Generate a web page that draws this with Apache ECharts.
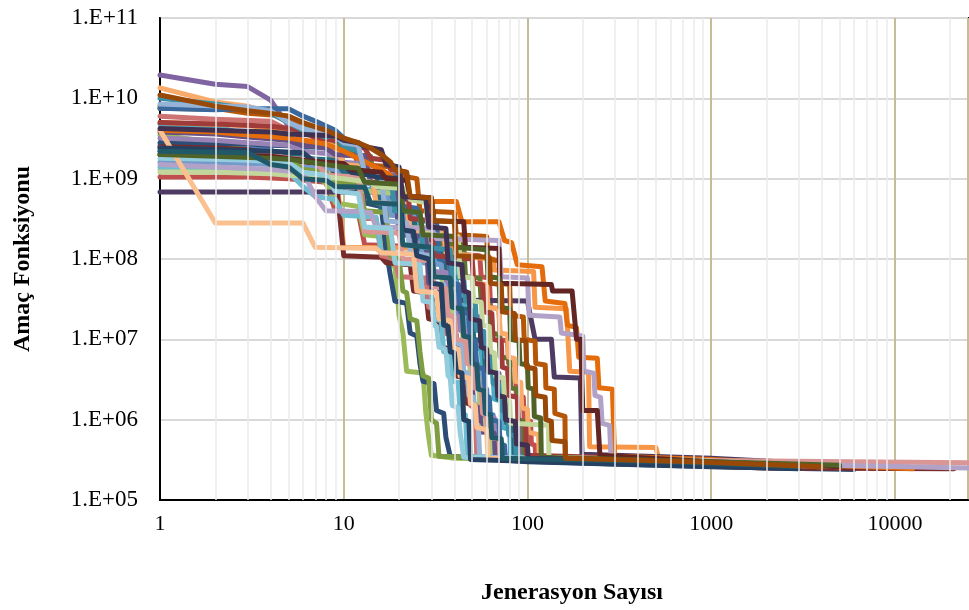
<!DOCTYPE html>
<html>
<head>
<meta charset="utf-8">
<script src="https://cdn.jsdelivr.net/npm/echarts@6/dist/echarts.min.js"></script>
<style>
html,body{margin:0;padding:0;background:#fff;}
#chart{width:969px;height:610px;}
</style>
</head>
<body>
<div id="chart"></div>
<script>
// Each run: [generation, objective value] points
const run01 = [[1,2.6e9],[2,2.4e9],[4,2.3e9],[5,1.7e9],[9,1.5e9],[10,1e9],[14,9e8],[15,6e8],[22,5.5e8],[23,2.5e8],[30,2.4e8],[31,1.2e8],[36,1.15e8],[37,6e7],[41,5.8e7],[42,2.5e7],[46,2.4e7],[47,1.2e7],[50,1.15e7],[51,5e6],[55,4.8e6],[56,2.5e6],[60,2.4e6],[61,1.2e6],[65,1.15e6],[66,6e5],[70,5.8e5],[71,3.3e5],[300,3e5],[2000,2.6e5],[6000,2.5e5]];
const run02 = [[1,1.05e9],[3,1.05e9],[5,1e9],[8,9e8],[9,4e8],[12,3.8e8],[13,1.5e8],[30,1.4e8],[31,1.2e8],[55,1.1e8],[56,6e7],[62,5.8e7],[63,2.5e7],[70,2.4e7],[71,1e7],[78,9.5e6],[79,5e6],[86,4.8e6],[87,2e6],[95,1.9e6],[96,1e6],[104,9.5e5],[105,5e5],[110,4.8e5],[111,3.5e5],[200,3.3e5],[1500,2.9e5],[8000,2.6e5]];
const run03 = [[1,3.5e9],[2,2.8e9],[3,2.2e9],[5,1.9e9],[6,1.2e9],[8,9e8],[9,5e8],[12,4.5e8],[13,2e8],[16,1.9e8],[17,9e7],[19,8e7],[20,2e7],[21,1.2e7],[22,4e6],[27,3.8e6],[28,1.2e6],[29,6e5],[30,3.6e5],[40,3.3e5],[200,3.1e5],[1000,2.8e5],[4000,2.5e5]];
const run04 = [[1,1.95e10],[2,1.5e10],[3,1.4e10],[4,9.5e9],[5,4.5e9],[6,3e9],[9,2.6e9],[10,2.2e9],[13,1.9e9],[14,1.2e9],[19,1.1e9],[20,4e8],[24,3.8e8],[25,2e8],[33,1.9e8],[34,8e7],[40,7.5e7],[41,4e7],[46,3.8e7],[47,2e7],[55,1.9e7],[56,8e6],[62,7.5e6],[63,4e6],[70,3.8e6],[71,1.8e6],[78,1.7e6],[79,9e5],[90,8.5e5],[91,3.4e5],[500,3e5],[3000,2.6e5]];
const run05 = [[1,4.8e9],[2,4.5e9],[3,3.5e9],[5,3e9],[6,2.5e9],[8,2.4e9],[9,9e8],[11,8.5e8],[12,7.5e8],[20,7e8],[21,3e8],[25,2.8e8],[26,1e8],[40,9.5e7],[41,4.5e7],[45,4.3e7],[46,2e7],[50,1.9e7],[51,8e6],[56,7.5e6],[57,4e6],[65,3.8e6],[66,1.8e6],[72,1.7e6],[73,8e5],[80,7.5e5],[81,3.5e5],[400,3.1e5],[3000,2.6e5]];
const run06 = [[1,5e9],[3,4.6e9],[5,4e9],[6,3.7e9],[8,3e9],[9,1.5e9],[10,1.4e8],[40,1.35e8],[41,1.1e8],[65,1e8],[66,7.3e7],[108,7e7],[110,2.5e7],[163,2.4e7],[170,4e6],[215,3.9e6],[218,4.6e5],[500,4.5e5],[520,3.2e5],[3000,2.8e5]];
const run07 = [[1,2.8e9],[3,2.7e9],[4,2.6e9],[8,2.5e9],[9,2.2e9],[12,2.1e9],[13,5e8],[16,4.5e8],[17,1.3e8],[18,6e7],[19,3e7],[22,2.8e7],[23,1.2e7],[25,1.1e7],[26,5e6],[27,3e6],[31,2.8e6],[32,1.3e6],[35,1.2e6],[36,6e5],[38,3.5e5],[100,3e5],[1000,2.6e5],[6000,2.4e5]];
const run08 = [[1,2.5e9],[2,2.4e9],[3,2.3e9],[4,2.1e9],[5,1.7e9],[8,1.5e9],[9,1.2e9],[10,1.1e8],[16,1.05e8],[17,9e7],[23,8.5e7],[24,4e7],[28,3.8e7],[29,1.8e7],[33,1.7e7],[34,8e6],[40,7.5e6],[41,3.5e6],[46,3.3e6],[47,1.6e6],[54,1.5e6],[55,8e5],[62,7.5e5],[63,3.3e5],[300,2.9e5],[2000,2.5e5],[21000,2.45e5]];
const run09 = [[1,7.5e9],[2,7.3e9],[3,7.3e9],[4,7e9],[5,5.5e9],[6,5e9],[7,4e9],[8,3e9],[10,2.6e9],[11,2e9],[14,1.9e9],[15,6e8],[19,5.8e8],[20,2.4e8],[28,2.3e8],[29,1.6e8],[45,1.5e8],[46,6e7],[55,5.8e7],[56,3e7],[62,2.9e7],[63,1.2e7],[70,1.15e7],[71,6e6],[80,5.8e6],[81,2.5e6],[88,2.4e6],[89,1e6],[95,9.5e5],[96,3.4e5],[1000,2.9e5],[12000,2.55e5]];
const run10 = [[1,6.8e8],[17,6.8e8],[19,5.5e8],[28,5.5e8],[29,5.3e8],[30,3.1e7],[100,3e7],[110,1e7],[135,1e7],[140,3.4e6],[194,3.3e6],[198,3.7e5],[1000,3.3e5],[3000,2.9e5],[10000,2.55e5]];
const run11 = [[1,2.2e9],[3,2.1e9],[5,2e9],[6,1.8e9],[9,1.7e9],[10,1.2e9],[15,1.1e9],[16,4e8],[24,3.8e8],[25,1.3e8],[35,1.2e8],[36,5e7],[42,4.8e7],[43,2.4e7],[50,2.3e7],[51,1e7],[58,9.5e6],[59,4e6],[68,3.8e6],[69,1.8e6],[76,1.7e6],[77,9e5],[84,8.5e5],[85,3.3e5],[600,3e5],[4000,2.6e5]];
const run12 = [[1,8e9],[2,7.5e9],[3,6.5e9],[5,6e9],[6,4e9],[8,3.2e9],[11,2.6e9],[12,1.5e9],[19,1.4e9],[20,1.1e9],[25,1e9],[26,4e8],[40,3.8e8],[41,2e8],[60,1.9e8],[61,1e8],[70,9.5e7],[71,5e7],[80,4.8e7],[81,2e7],[95,1.9e7],[96,1e7],[110,9.5e6],[111,5e6],[125,4.8e6],[126,2.5e6],[140,2.4e6],[141,1.2e6],[160,1.1e6],[161,3.3e5],[800,3e5],[5000,2.6e5]];
const run13 = [[1,1.6e9],[2,1.6e9],[4,1.5e9],[6,1.4e9],[9,1.3e9],[10,9e8],[17,8.5e8],[18,3.5e8],[26,3.3e8],[27,9e7],[34,8.5e7],[35,4e7],[40,3.8e7],[41,2e7],[45,1.9e7],[46,8e6],[50,7.5e6],[51,4e6],[55,3.8e6],[56,2e6],[60,1.9e6],[61,9e5],[64,8.5e5],[65,3.4e5],[300,3.1e5],[2500,2.6e5]];
const run14 = [[1,6e9],[2,5.5e9],[4,5.2e9],[5,4e9],[7,3.5e9],[8,3.5e9],[9,2e9],[12,1.9e9],[13,3.2e8],[15,3.2e8],[16,1.1e8],[19,1e8],[20,6e7],[28,5.8e7],[29,2.5e7],[34,2.4e7],[35,1.2e7],[38,1.15e7],[39,6e6],[44,5.8e6],[45,3e6],[48,2.9e6],[49,1.5e6],[52,1.4e6],[53,3.4e5],[500,3.1e5],[3000,2.7e5]];
const run15 = [[1,1.3e9],[2,1.25e9],[5,1.2e9],[7,1.1e9],[8,1e9],[12,9.5e8],[13,7e8],[20,6.5e8],[21,2.5e8],[28,2.4e8],[29,7e7],[34,6.8e7],[35,3.5e7],[38,3.3e7],[39,1.6e7],[44,1.5e7],[45,7e6],[48,6.8e6],[49,3.5e6],[54,3.3e6],[55,1.5e6],[58,1.4e6],[59,8e5],[62,7.5e5],[63,3.3e5],[400,3e5],[2000,2.6e5]];
const run16 = [[1,3.2e9],[2,3e9],[3,2.8e9],[5,2.6e9],[6,2.2e9],[9,2e9],[10,1.6e9],[14,1.5e9],[15,5e8],[22,4.8e8],[23,1.6e8],[30,1.5e8],[31,7e7],[36,6.8e7],[37,3e7],[42,2.9e7],[43,1.3e7],[47,1.25e7],[48,5.5e6],[53,5.3e6],[54,2.5e6],[58,2.4e6],[59,1.1e6],[66,1.05e6],[67,5.5e5],[72,5.3e5],[73,3.2e5],[500,3e5],[3000,2.6e5]];
const run17 = [[1,1.4e9],[2,1.4e9],[3,1.3e9],[5,1.2e9],[6,8e8],[7,6e8],[9,5.5e8],[10,3.5e8],[15,3.3e8],[16,1.2e8],[25,1.15e8],[26,4e7],[30,3.8e7],[31,1.8e7],[34,1.7e7],[35,7e6],[38,6.8e6],[39,3e6],[42,2.9e6],[43,1.2e6],[46,1.15e6],[47,3.5e5],[400,3.1e5],[2500,2.6e5]];
const run18 = [[1,1.35e10],[2,9e9],[3,8e9],[4,6.5e9],[5,5e9],[6,4e9],[7,3e9],[9,2.5e9],[10,1.5e9],[14,1.4e9],[15,5e8],[22,4.8e8],[23,2.2e8],[35,2.1e8],[36,1.2e8],[50,1.1e8],[51,5e7],[60,4.8e7],[61,2.5e7],[70,2.4e7],[71,1.2e7],[78,1.15e7],[79,6e6],[85,5.8e6],[86,3e6],[92,2.9e6],[93,1.4e6],[100,1.35e6],[101,7e5],[115,6.5e5],[116,3.4e5],[600,3.1e5],[4000,2.6e5]];
const run19 = [[1,7.5e9],[2,7.2e9],[3,7.4e9],[4,7.4e9],[5,7.4e9],[6,6e9],[7,5.2e9],[9,4e9],[10,3.2e9],[11,2.8e9],[12,2e9],[14,1.5e9],[16,1.3e9],[17,1.1e9],[20,1e9],[21,4.5e8],[25,4.3e8],[26,3e8],[32,2.9e8],[33,1e8],[38,9.5e7],[39,5e7],[42,4.8e7],[43,2.2e7],[48,2.1e7],[49,1e7],[52,9.5e6],[53,4.5e6],[58,4.3e6],[59,2e6],[62,1.9e6],[63,1e6],[70,9.5e5],[71,5e5],[75,4.8e5],[76,3.3e5],[400,3e5],[3000,2.6e5]];
const run20 = [[1,5e9],[2,4.8e9],[4,4.5e9],[6,4e9],[7,3.2e9],[9,3e9],[10,2.8e9],[11,2.5e9],[13,2.4e9],[14,1.8e9],[17,1.7e9],[18,1.3e9],[22,1.2e9],[23,3.2e8],[30,3e8],[31,1.1e8],[50,1e8],[51,5e7],[57,4.8e7],[58,2.2e7],[64,2.1e7],[65,1e7],[72,9.5e6],[73,4.5e6],[78,4.3e6],[79,2e6],[88,1.9e6],[89,9e5],[98,8.5e5],[99,3.6e5],[700,3.2e5],[4000,2.7e5]];
const run21 = [[1,2e9],[3,1.95e9],[5,1.8e9],[6,1.3e9],[8,1.2e9],[9,9e8],[12,8.5e8],[13,4e8],[17,3.8e8],[18,1.1e8],[20,1e8],[21,4e7],[22,3.8e7],[23,1.8e7],[25,1.7e7],[26,7e6],[27,3.5e6],[29,3.3e6],[30,1e6],[32,9e5],[33,3.5e5],[200,3.1e5],[1500,2.7e5]];
const run22 = [[1,3.8e9],[2,3.6e9],[3,3.3e9],[5,3e9],[6,2.6e9],[8,2.4e9],[9,2e9],[13,1.9e9],[14,9e8],[19,8.5e8],[20,2e8],[28,1.9e8],[29,5e7],[33,4.8e7],[34,2.5e7],[36,2.4e7],[37,1.2e7],[41,1.15e7],[42,6e6],[44,5.8e6],[45,3e6],[50,2.9e6],[51,1.5e6],[55,1.4e6],[56,7e5],[66,6.8e5],[67,3.2e5],[600,3e5],[4000,2.6e5]];
const run23 = [[1,1e10],[2,8.5e9],[3,7.5e9],[4,6.5e9],[5,5e9],[6,4e9],[7,3.6e9],[8,3.3e9],[9,3.5e9],[10,2.5e9],[12,2.2e9],[13,1.2e9],[18,1.1e9],[19,4e8],[26,3.8e8],[27,1.4e8],[38,1.3e8],[39,6e7],[45,5.8e7],[46,3e7],[52,2.9e7],[53,1.3e7],[58,1.25e7],[59,6e6],[64,5.8e6],[65,2.8e6],[72,2.7e6],[73,1.3e6],[78,1.25e6],[79,6.5e5],[86,6.3e5],[87,3.3e5],[500,3.1e5],[3000,2.6e5]];
const run24 = [[1,4e9],[2,3.8e9],[3,3.5e9],[5,3.2e9],[6,3e9],[8,2.7e9],[10,2.2e9],[12,1.8e9],[14,1.5e9],[16,1.3e9],[18,1.1e9],[20,8e8],[22,6.5e8],[24,5.5e8],[27,5.2e8],[41,5.2e8],[44,2.9e8],[70,2.9e8],[75,1.7e8],[82,1.6e8],[88,8.5e7],[120,8e7],[125,3e7],[160,2.8e7],[165,1.5e7],[185,1.4e7],[190,6e6],[240,5.8e6],[245,2.5e6],[290,2.4e6],[298,3.5e5],[1000,3.2e5],[3000,2.8e5],[12500,2.45e5]];
const run25 = [[1,8.5e9],[2,8e9],[3,7.8e9],[4,7e9],[5,5e9],[6,4.2e9],[8,3.6e9],[9,3.4e9],[10,2.8e9],[12,2.6e9],[13,1.2e9],[16,1.1e9],[17,3e8],[22,2.8e8],[23,1.2e8],[30,1.1e8],[31,5e7],[35,4.8e7],[36,2e7],[40,1.9e7],[41,9e6],[44,8.5e6],[45,4e6],[47,3.8e6],[48,2e6],[51,1.9e6],[52,9e5],[54,8.5e5],[55,3.4e5],[300,3.1e5],[2000,2.7e5]];
const run26 = [[1,2.4e9],[2,2.2e9],[4,2e9],[5,1.8e9],[7,1.7e9],[8,1.1e9],[12,1.05e9],[13,2.2e8],[20,2.1e8],[21,1e8],[30,9.5e7],[31,4.5e7],[36,4.3e7],[37,2e7],[40,1.9e7],[41,1e7],[46,9.5e6],[47,5e6],[50,4.8e6],[51,2.5e6],[56,2.4e6],[57,1.2e6],[60,1.15e6],[61,6e5],[70,5.8e5],[71,3.3e5],[1000,3.1e5],[25000,2.9e5]];
const run27 = [[1,1.2e9],[2,1.2e9],[4,1.15e9],[5,1.1e9],[8,1.05e9],[10,1e9],[14,9e8],[15,8e8],[22,7.5e8],[23,5.5e8],[28,5e8],[29,2e8],[42,1.9e8],[43,6e7],[50,5.8e7],[51,3e7],[56,2.9e7],[57,1.5e7],[62,1.45e7],[63,7e6],[66,6.8e6],[67,3.5e6],[74,3.3e6],[75,1.8e6],[80,1.7e6],[81,9e5],[130,8.5e5],[131,3.4e5],[800,3.1e5],[5000,2.6e5]];
const run28 = [[1,1.5e9],[2,1.4e9],[3,1.35e9],[4,1.3e9],[6,1.2e9],[7,6e8],[8,4e8],[12,3.9e8],[14,3.8e8],[15,2.5e8],[30,2.4e8],[32,1.8e8],[70,1.7e8],[72,6e7],[100,5.8e7],[102,2e7],[150,1.9e7],[153,1.2e7],[200,1.1e7],[203,4e6],[230,3.8e6],[233,2e6],[250,1.9e6],[255,9e5],[280,8.5e5],[285,3.4e5],[2000,2.8e5],[25000,2.5e5]];
const run29 = [[1,1.8e9],[2,1.75e9],[3,1.7e9],[5,1.6e9],[6,1.2e9],[8,1.1e9],[9,7e8],[12,6.5e8],[13,2.5e8],[18,2.4e8],[19,9e7],[26,8.5e7],[27,3e7],[30,2.9e7],[31,1.5e7],[32,1.45e7],[33,8e6],[36,7.5e6],[37,3.5e6],[38,3.3e6],[39,1.5e6],[42,1.4e6],[43,7e5],[44,6.8e5],[45,3.4e5],[300,3.1e5],[2000,2.7e5]];
const run30 = [[1,4e9],[2,2.8e8],[6,2.8e8],[7,1.4e8],[15,1.35e8],[16,1.2e8],[24,1.15e8],[25,4e7],[32,3.8e7],[33,1.8e7],[38,1.7e7],[39,8e6],[42,7.5e6],[43,3.5e6],[48,3.3e6],[49,1.6e6],[52,1.5e6],[53,8e5],[60,7.5e5],[61,3.3e5],[400,3.1e5],[2500,2.6e5]];
const run31 = [[1,2.4e9],[2,2.3e9],[4,2.2e9],[6,2.1e9],[7,1.6e9],[10,1.5e9],[11,1.2e9],[14,1.1e9],[15,1.05e9],[20,1e9],[21,2.3e8],[24,2.2e8],[25,1.1e8],[29,1e8],[30,5e7],[34,4.8e7],[35,1.5e7],[37,1.45e7],[38,7e6],[40,6.8e6],[41,4e6],[44,3.8e6],[45,1e6],[48,9.5e5],[49,3.2e5],[300,2.8e5],[3000,2.45e5]];
const run32 = [[1,2e9],[2,2e9],[4,1.9e9],[6,1.7e9],[8,1.6e9],[10,1.55e9],[11,1.3e9],[16,1.2e9],[17,1e9],[22,9.5e8],[23,6e8],[30,5.8e8],[31,3e8],[45,2.9e8],[46,1.4e8],[70,1.35e8],[71,5e7],[135,4.8e7],[137,4e7],[175,4e7],[185,1e7],[195,1e7],[200,1.3e6],[240,1.3e6],[248,3.6e5],[1000,3e5],[5000,2.6e5]];
const run33 = [[1,2e9],[2,1.9e9],[4,1.8e9],[5,1.75e9],[8,1.5e9],[10,1.4e9],[12,1.35e9],[13,9e8],[20,8.5e8],[21,4e8],[26,3.8e8],[27,2e8],[40,1.9e8],[41,1.4e8],[60,1.3e8],[61,6e7],[70,5.8e7],[71,2.5e7],[80,2.4e7],[81,1e7],[90,9.5e6],[91,5e6],[100,4.8e6],[101,2.5e6],[108,2.4e6],[109,1.1e6],[118,1.05e6],[119,3.4e5],[1000,3e5],[5000,2.7e5]];
const run34 = [[1,4.2e9],[2,4e9],[4,3.8e9],[5,3.6e9],[7,3.5e9],[9,3.4e9],[10,3e9],[12,2.8e9],[13,2.5e9],[16,2.3e9],[17,1.5e9],[20,1.4e9],[21,6e8],[28,5.7e8],[29,2.5e8],[36,2.4e8],[37,9e7],[44,8.5e7],[45,4e7],[48,3.8e7],[49,1.8e7],[55,1.7e7],[56,8e6],[60,7.5e6],[61,4e6],[68,3.8e6],[69,2e6],[75,1.9e6],[76,1e6],[86,9.5e5],[87,5e5],[100,4.8e5],[101,3.3e5],[800,3e5],[3000,2.6e5]];
const run35 = [[1,2.2e9],[3,2.1e9],[4,1.5e9],[5,1.4e9],[6,1e9],[8,9.5e8],[9,8e8],[13,7.8e8],[14,5e8],[20,4.8e8],[21,1.5e8],[30,1.4e8],[31,6e7],[38,5.8e7],[39,2.5e7],[44,2.4e7],[45,1.1e7],[49,1.05e7],[50,5e6],[53,4.8e6],[54,2.4e6],[58,2.3e6],[59,1.2e6],[63,1.15e6],[64,6e5],[72,5.8e5],[73,3.3e5],[600,3e5],[3000,2.6e5]];
const run36 = [[1,1.1e10],[2,8e9],[3,7e9],[4,6.5e9],[5,6e9],[6,5e9],[8,4e9],[10,3.2e9],[12,2.8e9],[14,2.4e9],[16,2e9],[18,1.6e9],[19,1.3e9],[22,1.2e9],[23,6e8],[30,5.8e8],[31,3e8],[40,2.9e8],[41,1.1e8],[62,1.05e8],[63,5e7],[72,4.8e7],[73,2.2e7],[85,2.1e7],[86,1e7],[98,9.5e6],[99,4.5e6],[110,4.3e6],[111,2e6],[125,1.9e6],[126,1e6],[135,9.5e5],[136,5.5e5],[160,5.3e5],[161,3.3e5],[800,3e5],[4000,2.6e5]];

const runs = [run01,run02,run03,run04,run05,run06,run07,run08,run09,run10,run11,run12,run13,run14,run15,run16,run17,run18,run19,run20,run21,run22,run23,run24,run25,run26,run27,run28,run29,run30,run31,run32,run33,run34,run35,run36];

const lineColors = ['#4F81BD','#C0504D','#9BBB59','#8064A2','#4BACC6','#F79646',
  '#2C4D75','#772C2A','#5F7530','#4D3B62','#276A7C','#B65708',
  '#729ACA','#CD7371','#AFC97A','#9983B5','#6FBDD1','#F9AB6B',
  '#3A679C','#9F3B38','#7E9C40','#664F83','#3A8FA5','#E46C0A',
  '#95B3D7','#D99694','#C3D69B','#B3A2C7','#93CDDD','#FAC090',
  '#254061','#632523','#4F6228','#403152','#215968','#984807'];

const minorGridX = [2,3,4,5,6,7,8,9,20,30,40,50,60,70,80,90,200,300,400,500,600,700,800,900,
  2000,3000,4000,5000,6000,7000,8000,9000,20000];

const xMin = 1, xMax = 25000, yMin = 1e5, yMax = 1e11;
const xTitle = 'Jenerasyon Sayısı';
const yTitle = 'Amaç Fonksiyonu';

const FONT = '"Liberation Serif", "Times New Roman", serif';

const chart = echarts.init(document.getElementById('chart'), null, {renderer: 'canvas'});

const series = [{
  type: 'line', data: [], silent: true, z: 1,
  markLine: {
    silent: true, symbol: ['none','none'], label: {show: false},
    lineStyle: {color: '#EBEBEB', width: 1.5, type: 'solid'},
    animation: false,
    data: minorGridX.map(v => ({xAxis: v}))
  }
}];
runs.forEach((r, i) => {
  series.push({
    type: 'line', data: r, showSymbol: false, symbol: 'none', z: 2,
    lineStyle: {color: lineColors[i % lineColors.length], width: 5, cap: 'round', join: 'round'},
    emphasis: {disabled: true}, animation: false
  });
});

chart.setOption({
  animation: false,
  grid: {left: 160, right: 1, top: 18, bottom: 110, show: true, borderColor: '#000', borderWidth: 2,
    backgroundColor: 'transparent', containLabel: false, outerBoundsMode: 'none'},
  xAxis: {
    type: 'log', logBase: 10, min: xMin, max: xMax,
    name: xTitle, nameLocation: 'middle', nameGap: 81,
    nameTextStyle: {fontFamily: FONT, fontSize: 24, fontWeight: 'bold', color: '#000', padding: [0,0,0,16]},
    axisLine: {show: true, lineStyle: {color: '#000', width: 2}},
    axisTick: {show: false},
    axisLabel: {fontFamily: FONT, fontSize: 22, color: '#000', margin: 13, showMaxLabel: false,
      formatter: v => String(Math.round(v))},
    splitLine: {show: true, lineStyle: {color: '#C4BD97', width: 2}}
  },
  yAxis: {
    type: 'log', logBase: 10, min: yMin, max: yMax,
    name: yTitle, nameLocation: 'middle', nameGap: 125, nameRotate: 90,
    nameTextStyle: {fontFamily: FONT, fontSize: 24, fontWeight: 'bold', color: '#000'},
    axisLine: {show: true, lineStyle: {color: '#000', width: 2}},
    axisTick: {show: false},
    axisLabel: {fontFamily: FONT, fontSize: 23, color: '#000', margin: 22,
      formatter: v => '1.E+' + String(Math.round(Math.log10(v))).padStart(2, '0')},
    splitLine: {show: true, lineStyle: {color: '#D9D9D9', width: 2}}
  },
  series: series
});
</script>
</body>
</html>
